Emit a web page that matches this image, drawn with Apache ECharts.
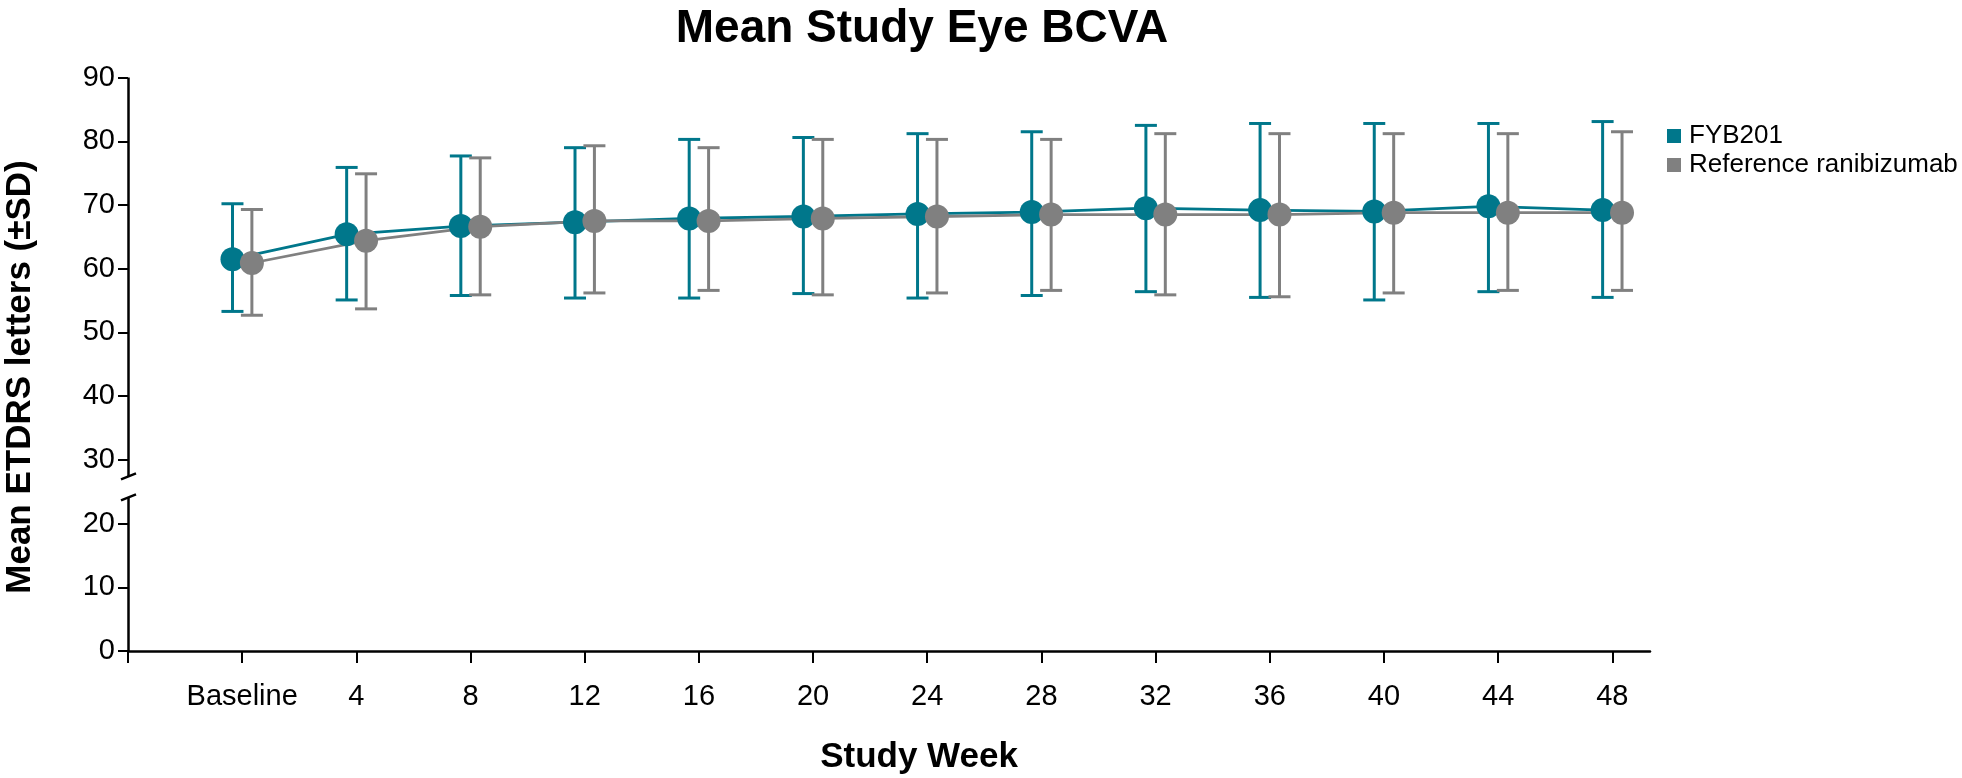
<!DOCTYPE html>
<html>
<head>
<meta charset="utf-8">
<title>Mean Study Eye BCVA</title>
<script src="https://cdn.jsdelivr.net/npm/echarts@6/dist/echarts.min.js"></script>
<style>
    html, body { margin: 0; padding: 0; background: #fff; }
    #chart { width: 1962px; height: 778px; }
</style>
</head>
<body>
<div id="chart"></div>
<script>
// study weeks on the x axis
var weeks = ['Baseline', '4', '8', '12', '16', '20', '24', '28', '32', '36', '40', '44', '48'];

// FYB201: mean and the ends of the SD bars
var fybMean  = [61.5, 65.4, 66.7, 67.3, 67.9, 68.2, 68.6, 68.9, 69.5, 69.2, 69.0, 69.8, 69.2];
var fybUpper = [70.2, 75.9, 77.7, 79.0, 80.3, 80.6, 81.2, 81.5, 82.5, 82.8, 82.8, 82.8, 83.1];
var fybLower = [53.3, 55.1, 55.8, 55.4, 55.4, 56.1, 55.4, 55.8, 56.4, 55.5, 55.1, 56.4, 55.5];

// Reference ranibizumab
var refMean  = [60.9, 64.4, 66.6, 67.5, 67.5, 67.9, 68.2, 68.5, 68.5, 68.5, 68.8, 68.8, 68.8];
var refUpper = [69.3, 74.9, 77.4, 79.3, 79.0, 80.3, 80.3, 80.3, 81.2, 81.2, 81.2, 81.2, 81.5];
var refLower = [52.7, 53.7, 55.9, 56.2, 56.6, 55.9, 56.2, 56.6, 55.9, 55.6, 56.2, 56.6, 56.6];

// where the y axis line is broken
var breakLow = 24.1;
var breakHigh = 27.4;

var TEAL = '#00778b';
var GREY = '#808080';
var FONT = '"Liberation Sans", Arial, sans-serif';
var SHIFT = 0.085; // side-by-side offset of the two groups

function points(mean, shift) {
    return mean.map(function (v, i) { return [i + shift, v]; });
}
function bars(lo, hi, shift) {
    return lo.map(function (v, i) { return [i + shift, v, hi[i]]; });
}
function errorBar(color) {
    return function (params, api) {
        var x = api.value(0);
        var lo = api.coord([x, api.value(1)]);
        var hi = api.coord([x, api.value(2)]);
        var w = 11;
        var style = { stroke: color, lineWidth: 3 };
        return {
            type: 'group',
            children: [
                { type: 'line', shape: { x1: lo[0], y1: lo[1], x2: hi[0], y2: hi[1] }, style: style },
                { type: 'line', shape: { x1: lo[0] - w, y1: lo[1], x2: lo[0] + w, y2: lo[1] }, style: style },
                { type: 'line', shape: { x1: hi[0] - w, y1: hi[1], x2: hi[0] + w, y2: hi[1] }, style: style }
            ]
        };
    };
}

var texts = [{
    id: 'title', type: 'text', x: 922, y: 29,
    style: { text: 'Mean Study Eye BCVA', font: 'bold 46px ' + FONT, fill: '#000', align: 'center', verticalAlign: 'middle' }
}, {
    id: 'xname', type: 'text', x: 919, y: 757,
    style: { text: 'Study Week', font: 'bold 35px ' + FONT, fill: '#000', align: 'center', verticalAlign: 'middle' }
}, {
    id: 'yname', type: 'text', x: 20, y: 377, rotation: Math.PI / 2,
    style: { text: 'Mean ETDRS letters (\u00b1SD)', font: 'bold 35px ' + FONT, fill: '#000', align: 'center', verticalAlign: 'middle' }
}];

var chart = echarts.init(document.getElementById('chart'));
var option = {
    animation: false,
    textStyle: { fontFamily: FONT },
    graphic: texts,
    legend: {
        orient: 'vertical',
        left: 1662,
        top: 118,
        itemWidth: 14,
        itemHeight: 14,
        itemGap: 3,
        icon: 'rect',
        data: ['FYB201', 'Reference ranibizumab'],
        textStyle: { fontSize: 26, color: '#000', fontFamily: FONT, padding: [0, 0, 0, 3] }
    },
    grid: { left: 128, right: 312, top: 77.6, bottom: 127 },
    xAxis: {
        type: 'value',
        min: -1,
        max: 12.33,
        interval: 1,
        splitLine: { show: false },
        axisLine: { show: true, onZero: false, lineStyle: { color: '#000', width: 2.5 } },
        axisTick: { show: true, length: 12, lineStyle: { color: '#000', width: 2 } },
        axisLabel: {
            margin: 31,
            fontSize: 29,
            color: '#000',
            fontFamily: FONT,
            showMaxLabel: false,
            formatter: function (v) {
                return v >= 0 && v < weeks.length ? weeks[v] : '';
            }
        }
    },
    yAxis: {
        type: 'value',
        min: 0,
        max: 90,
        interval: 10,
        splitLine: { show: false },
        axisLine: { show: false, onZero: false },
        axisTick: { show: true, length: 10, lineStyle: { color: '#000', width: 2 } },
        axisLabel: { margin: 13, fontSize: 29, color: '#000', fontFamily: FONT }
    },
    series: [{
        // broken y axis line drawn through the chart's own scales
        name: 'axis',
        type: 'line',
        data: [],
        silent: true,
        markLine: {
            silent: true,
            symbol: ['none', 'none'],
            label: { show: false },
            emphasis: { disabled: true },
            lineStyle: { color: '#000', width: 2.5, type: 'solid' },
            data: [
                [{ coord: [-1, 0] }, { coord: [-1, breakLow] }],
                [{ coord: [-1, breakHigh] }, { coord: [-1, 90] }]
            ]
        }
    }, {
        name: 'FYB201 SD',
        type: 'custom',
        renderItem: errorBar(TEAL),
        encode: { x: 0, y: [1, 2] },
        data: bars(fybLower, fybUpper, -SHIFT),
        silent: true
    }, {
        name: 'FYB201',
        type: 'line',
        data: points(fybMean, -SHIFT),
        symbol: 'circle',
        symbolSize: 24,
        color: TEAL,
        itemStyle: { color: TEAL },
        lineStyle: { color: TEAL, width: 2.8 }
    }, {
        name: 'Reference ranibizumab SD',
        type: 'custom',
        renderItem: errorBar(GREY),
        encode: { x: 0, y: [1, 2] },
        data: bars(refLower, refUpper, SHIFT),
        silent: true
    }, {
        name: 'Reference ranibizumab',
        type: 'line',
        data: points(refMean, SHIFT),
        symbol: 'circle',
        symbolSize: 24,
        color: GREY,
        itemStyle: { color: GREY },
        lineStyle: { color: GREY, width: 2.8 }
    }]
};
chart.setOption(option);

// little slashes at both ends of the axis break
var pHigh = chart.convertToPixel({ gridIndex: 0 }, [-1, breakHigh]);
var pLow = chart.convertToPixel({ gridIndex: 0 }, [-1, breakLow]);
function slash(id, p) {
    return {
        id: id, type: 'line', silent: true,
        shape: { x1: p[0] - 7, y1: p[1] + 3, x2: p[0] + 8, y2: p[1] - 3 },
        style: { stroke: '#000', lineWidth: 2.5 }
    };
}
chart.setOption({ graphic: texts.concat([slash('breakHigh', pHigh), slash('breakLow', pLow)]) });
</script>
</body>
</html>
